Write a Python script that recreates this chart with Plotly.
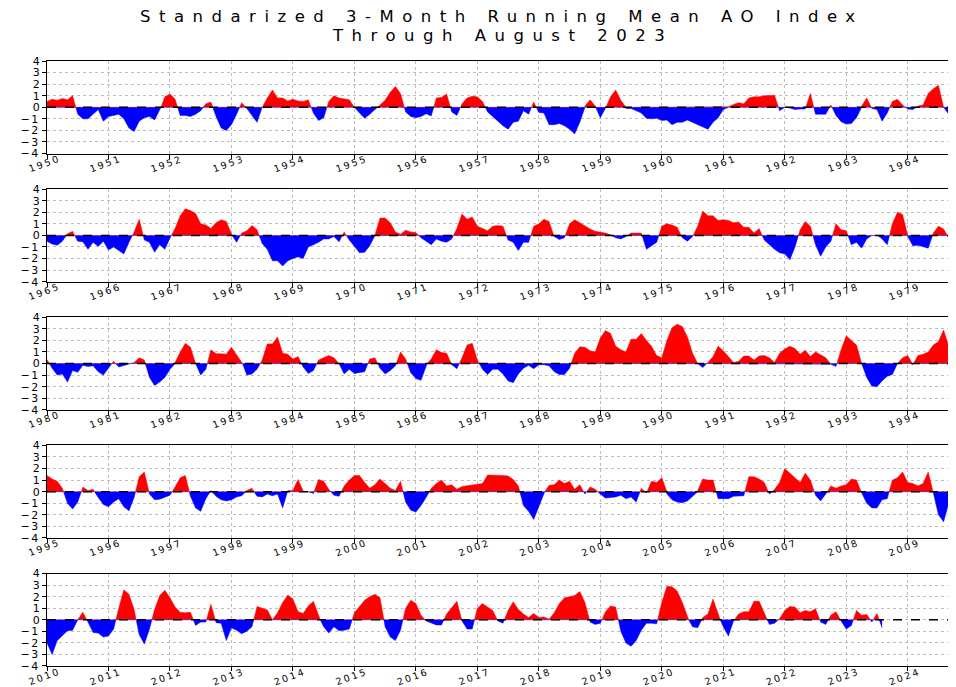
import numpy as np
import plotly.graph_objects as go

# ---------------- data (monthly 3-month running mean AO index) ----------------
panel_starts = [1950, 1965, 1980, 1995, 2010]

ao_1950_1964 = [
    0.5, 0.7, 0.6, 0.75, 0.65, 1.0, -0.6, -1.0, -1.0, -0.6, -0.2, -1.2,
    -0.8, -0.7, -0.6, -1.0, -1.8, -2.1, -1.2, -0.9, -0.8, -1.1, -0.3, 0.9,
    1.15, 0.7, -0.7, -0.7, -0.8, -0.6, -0.3, 0.3, 0.45, -0.8, -1.8, -2.0,
    -1.5, -0.6, 0.4, -0.1, -0.7, -1.3, 0.0, 0.8, 1.5, 0.8, 0.8, 0.55,
    0.7, 0.55, 0.5, 0.65, -0.5, -1.15, -0.9, 0.5, 1.0, 0.8, 0.7, 0.65,
    0.0, -0.5, -0.95, -0.6, -0.2, 0.2, 0.6, 1.3, 1.8, 1.2, -0.4, -0.8,
    -0.9, -0.8, -0.55, -0.75, 0.8, 0.85, 1.15, -0.4, -0.7, 0.3, 0.8, 0.95,
    0.9, 0.5, -0.4, -0.8, -1.15, -1.6, -1.9, -1.3, -1.2, -0.3, -0.6, 0.45,
    -0.45, -0.5, -1.5, -1.5, -1.4, -1.6, -1.9, -2.3, -1.3, 0.1, 0.65, 0.1,
    -0.9, -0.1, 0.9, 1.5, 0.6, -0.1, -0.1, -0.3, -0.5, -0.95, -1.0, -0.95,
    -1.15, -1.1, -1.5, -1.3, -1.3, -1.1, -1.3, -1.5, -1.7, -1.9, -1.3, -0.9,
    -0.2, 0.05, 0.25, 0.4, 0.3, 0.8, 0.9, 0.9, 1.0, 1.05, 1.05, -0.3,
    0.05, -0.05, -0.2, -0.15, -0.15, 1.2, -0.6, -0.6, -0.6, 0.2, -0.7, -1.25,
    -1.45, -1.4, -0.9, 0.1, 0.8, -0.1, -0.2, -1.2, -0.5, 0.5, 0.7, 0.2,
    -0.15, -0.2, 0.1, 0.2, 1.2, 1.6, 1.9, 0.0, -0.6, -0.85, -0.8, -0.6,
]

ao_1965_1979 = [
    -0.5, -0.75, -0.85, -0.5, 0.15, 0.35, -0.5, -0.55, -1.2, -0.6, -0.95, -0.5,
    -1.25, -1.0, -1.3, -1.6, -0.6, 0.3, 1.4, -0.4, -0.6, -1.45, -0.8, -1.2,
    -0.2, 0.6, 1.7, 2.3, 2.15, 1.9, 1.0, 0.9, 0.6, 1.1, 1.35, 1.2,
    0.1, -0.6, 0.2, 0.4, 0.85, 0.5, -0.7, -1.2, -2.2, -2.2, -2.65, -2.2,
    -2.0, -1.85, -2.0, -1.0, -0.8, -0.6, -0.3, -0.3, -0.1, -0.55, 0.3, -0.4,
    -1.0, -1.5, -1.45, -0.9, 0.0, 1.5, 1.5, 1.1, 0.3, 0.1, 0.45, 0.3,
    0.25, -0.2, -0.5, -0.8, -0.3, -0.5, -0.6, -0.3, 0.6, 1.85, 1.4, 1.6,
    0.8, 0.6, 0.4, 0.8, 0.85, 0.8, -0.4, -0.6, -1.3, -0.6, -0.6, 0.8,
    1.0, 1.4, 1.2, -0.1, -0.35, -0.2, 1.0, 1.35, 1.1, 0.8, 0.55, 0.35,
    0.3, 0.2, 0.05, -0.2, -0.3, -0.1, 0.2, 0.2, 0.2, -1.2, -0.9, -0.6,
    0.8, 1.0, 0.9, 0.7, -0.2, -0.5, -0.1, 0.8, 2.1, 1.7, 1.7, 1.3,
    1.35, 1.3, 1.1, 1.15, 0.7, 0.7, 0.2, 0.6, -0.4, -0.8, -1.2, -1.5,
    -1.6, -2.1, -1.0, 0.5, 1.2, 0.8, -0.8, -1.8, -1.0, -0.5, 1.0, 0.5,
    0.4, -0.8, -0.6, -1.1, -0.3, 0.0, 0.05, -0.3, -0.8, 1.0, 2.0, 1.8,
    -0.1, -0.9, -0.85, -0.95, -1.1, 0.2, 0.8, 0.55, -0.2, -1.3, -0.8, -0.6,
]

ao_1980_1994 = [
    0.35, -0.4, -1.0, -0.9, -1.6, -0.6, -0.75, -0.15, -0.25, -0.2, -0.7, -1.0,
    -0.4, 0.2, -0.3, -0.2, -0.05, 0.1, 0.5, 0.3, -1.2, -1.9, -1.6, -1.2,
    -0.5, 0.1, 1.0, 1.75, 1.4, 0.0, -1.0, -0.5, 1.2, 0.85, 0.85, 0.8,
    1.4, 0.8, 0.2, -1.0, -0.9, -0.5, 0.3, 1.7, 1.7, 2.3, 0.9, 0.8,
    0.4, 0.6, -0.3, -0.85, -0.6, 0.3, 0.5, 0.7, 0.5, 0.0, -0.9, -0.5,
    -0.85, -0.8, -0.7, 0.4, 0.5, -0.4, -0.9, -0.6, -0.2, 1.0, 0.4, -0.8,
    -1.3, -1.45, -0.1, 0.4, 1.2, 0.95, 0.9, -0.1, -0.45, 0.5, 1.6, 1.75,
    0.3, -0.5, -0.95, -0.5, -0.5, -0.9, -1.5, -1.65, -0.9, -0.4, -0.15, -0.45,
    -0.1, -0.1, -0.2, -0.7, -0.95, -0.95, -0.4, 0.9, 1.45, 1.4, 1.1, 1.0,
    2.2, 2.85, 2.6, 1.5, 1.2, 1.0, 2.1, 2.1, 2.6, 2.0, 1.5, 0.7,
    0.5, 2.0, 3.1, 3.4, 3.2, 2.3, 0.9, 0.0, -0.35, 0.1, 0.6, 1.5,
    1.1, 0.6, 0.1, 0.2, 0.65, 0.65, 0.3, 0.65, 0.7, 0.5, 0.1, 0.9,
    1.25, 1.5, 1.3, 0.8, 1.15, 0.6, 1.0, 0.75, 0.5, -0.05, -0.25, 1.2,
    2.4, 2.0, 1.6, 0.0, -1.2, -1.95, -2.0, -1.5, -1.1, -0.95, 0.0, 0.5,
    0.7, -0.1, 0.7, 0.8, 1.0, 1.6, 1.9, 2.9, 1.5, 1.0, 1.0, 1.1,
]

ao_1995_2009 = [
    1.4, 1.1, 0.9, 0.3, -1.0, -1.5, -0.9, 0.4, 0.1, 0.2, -0.5, -1.1,
    -1.3, -0.9, -0.6, -1.3, -1.65, -0.5, 1.3, 1.7, -0.2, -0.7, -0.65, -0.45,
    -0.3, 0.4, 1.2, 1.4, -0.4, -1.4, -1.7, -0.6, 0.1, -0.4, -0.7, -0.8,
    -0.7, -0.45, -0.35, 0.1, 0.3, -0.4, -0.45, -0.2, -0.35, -0.2, -1.4, 0.1,
    0.1, 1.05, 0.05, 0.0, -0.15, 1.05, 0.9, 0.2, -0.3, -0.4, 0.5, 1.0,
    1.4, 1.4, 0.8, 0.3, 0.6, 1.1, 0.7, 0.3, 0.1, 0.9, -0.9, -1.6,
    -1.75, -1.2, -0.5, 0.3, 0.7, 1.0, 0.5, 0.6, 0.2, 0.45, 0.5, 0.6,
    0.6, 0.7, 1.45, 1.45, 1.4, 1.4, 1.35, 1.05, 0.5, -1.2, -1.7, -2.4,
    -1.2, -0.1, 0.55, 0.6, 1.0, 0.7, 0.9, 0.2, 0.6, -0.2, 0.4, 0.2,
    -0.2, -0.55, -0.5, -0.45, -0.3, -0.6, -0.45, -0.9, 0.3, -0.1, 0.9, 0.8,
    1.2, -0.2, -0.7, -0.9, -0.95, -0.8, -0.4, 0.1, 1.1, 1.0, 1.0, -0.6,
    -0.6, -0.6, -0.4, -0.35, -0.35, 1.3, 1.3, 1.1, 0.8, -0.2, 0.2, 0.8,
    2.0, 1.6, 1.2, 0.8, 1.6, 1.0, -0.3, -0.8, -0.2, 0.5, 0.3, 0.5,
    0.6, 1.1, 1.0, -0.1, -1.0, -1.4, -1.4, -0.7, -0.6, 1.0, 1.2, 1.7,
    0.8, 0.7, 0.5, 0.7, 1.7, -0.1, -2.0, -2.6, -1.0, -0.6, -0.3, -0.2,
]

ao_2010_2023 = [
    -2.0, -3.0, -1.8, -1.4, -0.95, -0.9, 0.0, 0.65, -0.2, -1.1, -1.15, -1.5,
    -1.4, -0.8, 1.0, 2.6, 2.2, 0.9, -1.3, -2.1, -0.8, 0.9, 2.1, 2.55,
    1.9, 1.1, 0.65, 0.6, 0.65, -0.5, -0.2, -0.2, 1.35, -0.25, -0.3, -1.8,
    -0.7, -0.9, -1.2, -1.0, -0.6, 1.15, 1.0, 0.85, 0.0, 0.6, 1.5, 2.15,
    1.8, 0.7, 0.55, 1.2, 1.6, 0.3, -0.6, -1.15, -0.6, -0.95, -0.9, -0.8,
    0.6, 1.2, 1.7, 2.0, 2.2, 1.9, -0.6, -1.5, -1.8, -0.9, 1.0, 1.7,
    1.4, 0.4, -0.1, -0.3, -0.45, -0.45, 0.5, 1.1, 1.6, -0.1, -0.8, -0.8,
    1.0, 1.4, 1.1, 0.8, -0.1, -0.3, 0.8, 1.55, 0.9, 0.5, 0.2, 0.55,
    0.2, 0.25, 0.05, 0.6, 1.4, 1.9, 2.0, 2.1, 2.45, 1.5, -0.2, -0.4,
    -0.3, 0.7, 1.2, 1.1, -1.0, -2.0, -2.3, -1.8, -0.9, -0.3, -0.3, -0.35,
    1.5, 2.9, 2.85, 2.5, 1.5, 0.2, -0.6, -0.7, 0.2, 0.5, 1.8, 0.4,
    -0.6, -1.4, -0.1, 0.5, 0.7, 0.7, 1.6, 1.6, 0.6, -0.4, -0.3, 0.1,
    0.8, 1.15, 1.1, 0.6, 0.8, 0.7, 0.95, -0.2, -0.4, 0.4, 0.7, -0.1,
    -0.8, -0.5, 0.8, 0.4, 0.45, -0.2, 0.55, -0.7,
]

panels = [ao_1950_1964, ao_1965_1979, ao_1980_1994, ao_1995_2009, ao_2010_2023]
y_ticks = [-4, -3, -2, -1, 0, 1, 2, 3, 4]
title_lines = ["Standarized 3-Month Running Mean AO Index", "Through August 2023"]

# ---------------- figure ----------------
# The page has an 8px body margin, so the figure is laid out in
# screen coordinates minus 8 px.
OFF = 8
W, H = 956 - OFF, 687 - OFF
FONT = "DejaVu Sans"

left_px = 46.7 - OFF          # left spine
year_px = 61.5                # pixels per year
span = (W - left_px) / year_px
top0 = 60.7 - OFF             # top of first panel
bot_last = 666.0 - OFF        # bottom of last panel
m_bot = H - bot_last
plot_h = bot_last - top0
plot_w = W - left_px
panel_h = 92.6
panel_step = 128.2


def with_crossings(xs, ys):
    X, Y = [], []
    for i in range(len(ys)):
        if i > 0 and ys[i - 1] * ys[i] < 0:
            t = ys[i - 1] / (ys[i - 1] - ys[i])
            X.append(xs[i - 1] + t * (xs[i] - xs[i - 1]))
            Y.append(0.0)
        X.append(xs[i])
        Y.append(ys[i])
    return np.array(X), np.array(Y)


def ypaper(px):
    return (bot_last - px) / plot_h


def xpaper(px):
    return (px - left_px) / plot_w


def spaced(s, sp):
    return '<span style="letter-spacing:%gpx">%s</span>' % (sp, s)


fig = go.Figure()
layout = dict(
    width=W, height=H,
    margin=dict(l=left_px, r=0, t=top0, b=m_bot, pad=0, autoexpand=False),
    paper_bgcolor="white", plot_bgcolor="white", showlegend=False,
    font=dict(family=FONT, color="black"),
)
shapes = []
annotations = []

for i, (start, vals) in enumerate(zip(panel_starts, panels)):
    sfx = "" if i == 0 else str(i + 1)
    xs = start + np.arange(len(vals)) / 12.0
    X, Y = with_crossings(xs, np.array(vals, dtype=float))
    pos = np.where(Y > 0, Y, 0.0)
    neg = np.where(Y < 0, Y, 0.0)
    fig.add_trace(go.Scatter(x=X, y=pos, mode="lines", fill="tozeroy",
                             fillcolor="#ff0000", line=dict(color="#ff0000", width=0.5),
                             xaxis="x" + sfx, yaxis="y" + sfx, hoverinfo="skip"))
    fig.add_trace(go.Scatter(x=X, y=neg, mode="lines", fill="tozeroy",
                             fillcolor="#0000ff", line=dict(color="#0000ff", width=0.5),
                             xaxis="x" + sfx, yaxis="y" + sfx, hoverinfo="skip"))

    top = top0 + panel_step * i
    bot = top + panel_h
    years = list(range(start, start + 15))
    layout["xaxis" + sfx] = dict(
        domain=[0, 1], anchor="y" + sfx, automargin=False,
        range=[start, start + span],
        tickvals=years, showticklabels=False,
        showgrid=True, gridcolor="#bdbdbd", griddash="dot", gridwidth=1,
        zeroline=False, showline=True, linecolor="black", linewidth=1.2, mirror=True,
        ticks="outside", ticklen=4, tickcolor="black",
    )
    layout["yaxis" + sfx] = dict(
        domain=[max(0.0, ypaper(bot)), min(1.0, ypaper(top))], anchor="x" + sfx,
        automargin=False,
        range=[-4, 4], tickvals=y_ticks,
        ticktext=[spaced("\u2212" + str(abs(v)), 1.5) if v < 0 else str(v) for v in y_ticks],
        tickfont=dict(size=11, family=FONT),
        showgrid=True, gridcolor="#bdbdbd", griddash="dot", gridwidth=1,
        zeroline=False, showline=True, linecolor="black", linewidth=1.2, mirror=True,
        ticks="outside", ticklen=4, tickcolor="black",
    )
    shapes.append(dict(type="line", xref="x" + sfx + " domain", x0=0, x1=1,
                       yref="y" + sfx, y0=0, y1=0,
                       line=dict(color="black", width=1.5, dash="dash"), layer="above"))
    for yr in years:
        annotations.append(dict(
            text=spaced(str(yr), 2.2), x=yr, y=0, xref="x" + sfx, yref="y" + sfx + " domain",
            xanchor="center", yanchor="middle", xshift=-3, yshift=-10,
            textangle=-20, showarrow=False, font=dict(size=9.5, family=FONT, color="black"),
        ))

layout["shapes"] = shapes
for line, cy in zip(title_lines, [16.5 - OFF, 35.0 - OFF]):
    annotations.append(dict(
        text=spaced(line, 8.5), x=xpaper(498 - OFF + 4), y=ypaper(cy),
        xref="paper", yref="paper", xanchor="center", yanchor="middle",
        showarrow=False, font=dict(size=16.5, family=FONT, color="black"),
    ))
layout["annotations"] = annotations
fig.update_layout(**layout)
fig.write_html("out.html")
